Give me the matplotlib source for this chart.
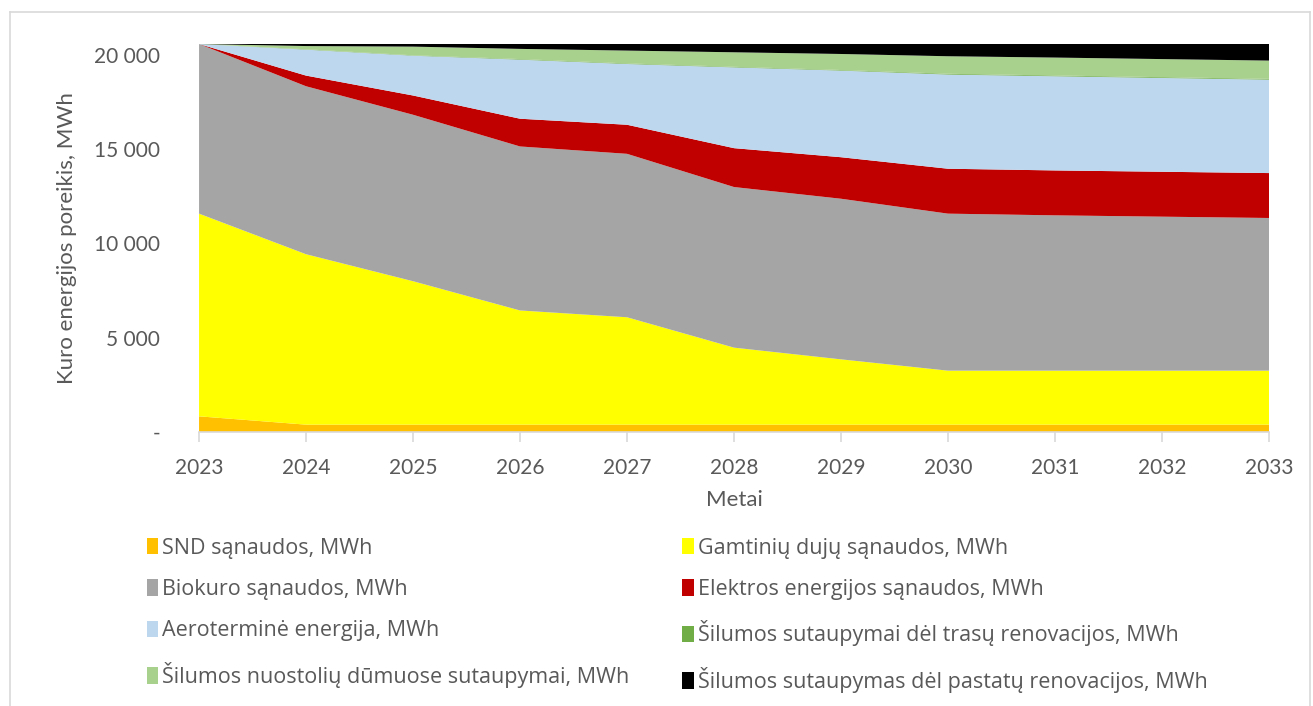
import matplotlib
matplotlib.use("Agg")
import matplotlib.pyplot as plt
from matplotlib.patches import Patch
from matplotlib.ticker import FuncFormatter

plt.rcParams["font.family"] = ["Lato", "DejaVu Sans"]

years = [2023, 2024, 2025, 2026, 2027, 2028, 2029, 2030, 2031, 2032, 2033]

# MWh per year
snd      = [830, 390, 390, 390, 390, 390, 390, 390, 390, 390, 390]
dujos    = [10740, 9030, 7600, 6050, 5690, 4080, 3460, 2860, 2860, 2860, 2860]
biokuras = [8990, 8900, 8820, 8690, 8660, 8510, 8510, 8320, 8230, 8160, 8090]
elektra  = [0, 565, 1020, 1470, 1540, 2060, 2200, 2380, 2380, 2380, 2380]
aero     = [0, 1375, 2110, 3130, 3220, 4280, 4590, 4990, 4990, 4970, 4950]
trasos   = [0, 20, 20, 30, 30, 30, 30, 40, 40, 40, 40]
dumai    = [0, 170, 460, 540, 680, 770, 850, 930, 950, 960, 970]
pastatai = [0, 110, 140, 260, 350, 440, 530, 650, 720, 800, 880]

labels = [
    "SND sąnaudos, MWh",
    "Gamtinių dujų sąnaudos, MWh",
    "Biokuro sąnaudos, MWh",
    "Elektros energijos sąnaudos, MWh",
    "Aeroterminė energija, MWh",
    "Šilumos sutaupymai dėl trasų renovacijos, MWh",
    "Šilumos nuostolių dūmuose sutaupymai, MWh",
    "Šilumos sutaupymas dėl pastatų renovacijos, MWh",
]
colors = ["#FFC000", "#FFFF00", "#A5A5A5", "#C00000",
          "#BDD7EE", "#70AD47", "#A9D18E", "#000000"]
y_ticks = [0, 5000, 10000, 15000, 20000]
TXT = "#595959"

fig = plt.figure(figsize=(13.13, 7.06), dpi=100)
ax = fig.add_axes([0.1516, 0.3881, 0.8149, 0.5496])

series = [snd, dujos, biokuras, elektra, aero, trasos, dumai, pastatai]
ax.stackplot(years, series, colors=colors, linewidth=0)

total = sum(s[0] for s in series)
ax.set_xlim(years[0], years[-1])
ax.set_ylim(0, total)
ax.set_xticks(years)
ax.set_yticks(y_ticks)
ax.yaxis.set_major_formatter(FuncFormatter(
    lambda v, p: "-" if v == 0 else f"{int(v):,}".replace(",", " ")))

for s in ["top", "right", "left"]:
    ax.spines[s].set_visible(False)
ax.spines["bottom"].set_color("#D9D9D9")
ax.spines["bottom"].set_linewidth(1.2)
ax.tick_params(axis="x", colors="#D9D9D9", length=7, width=1.2, pad=12,
               labelcolor=TXT, labelsize=15)
ax.tick_params(axis="y", length=0, pad=28, labelcolor=TXT, labelsize=15)

ax.set_xlabel("Metai", fontsize=16, color=TXT, labelpad=8)
ax.set_ylabel("Kuro energijos poreikis, MWh", fontsize=16, color=TXT, labelpad=12)

# row-wise order like the original: matplotlib fills legend columns first
order = [0, 2, 4, 6, 1, 3, 5, 7]
handles = [Patch(facecolor=colors[i], edgecolor="none") for i in order]
leg = fig.legend(handles, [labels[i] for i in order], ncol=2,
                 loc="upper left", bbox_to_anchor=(0.097, 0.266),
                 frameon=False, labelcolor=TXT,
                 prop={"family": ["Open Sans", "DejaVu Sans"], "size": 15.5},
                 handlelength=0.53, handleheight=0.82, handletextpad=0.2,
                 columnspacing=2.45, labelspacing=0.95)

# thin grey chart border
fig.add_artist(plt.Line2D([10 / 1313, 10 / 1313], [0, 1 - 12 / 706],
                          color="#D9D9D9", lw=1.2))
fig.add_artist(plt.Line2D([10 / 1313, 1310 / 1313], [1 - 12 / 706, 1 - 12 / 706],
                          color="#D9D9D9", lw=1.2))
fig.add_artist(plt.Line2D([1310 / 1313, 1310 / 1313], [0, 1 - 12 / 706],
                          color="#D9D9D9", lw=1.2))

fig.savefig("out.png", dpi=100)
